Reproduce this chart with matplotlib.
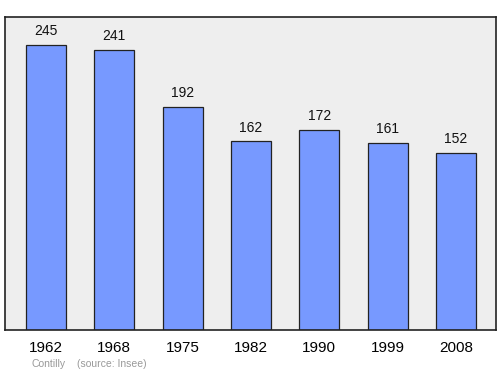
import numpy as np
import matplotlib
matplotlib.use("Agg")
import matplotlib.pyplot as plt

plt.rcParams["font.family"] = ["Liberation Sans", "DejaVu Sans"]

years = ["1962", "1968", "1975", "1982", "1990", "1999", "2008"]
population = [245, 241, 192, 162, 172, 161, 152]
commune = "Contilly"
source = "(source: Insee)"

fig = plt.figure(figsize=(5, 3.74), dpi=100)
ax = fig.add_axes([0.01, 0.1176, 0.982, 0.837])
ax.set_facecolor("#eeeeee")

x = np.arange(len(years))
ax.bar(x, population, width=0.585, color="#7799ff", edgecolor="#222222", linewidth=0.9)
for xi, v in zip(x, population):
    ax.text(xi, v + 12, str(v), ha="center", va="center", fontsize=10, color="#111111")

ax.set_xlim(-0.6, 6.585)
ax.set_ylim(0, 269)
ax.set_xticks(x)
ax.set_xticklabels(years, fontsize=11)
ax.tick_params(axis="x", length=0, pad=8)
ax.set_yticks([])
for s in ax.spines.values():
    s.set_linewidth(1.2)
    s.set_color("#222222")

fig.text(31 / 500, 1 - 364 / 374, commune, fontsize=7.5, color="#999999", va="center")
fig.text(77 / 500, 1 - 364 / 374, source, fontsize=7.5, color="#999999", va="center")

fig.savefig("out.png")
